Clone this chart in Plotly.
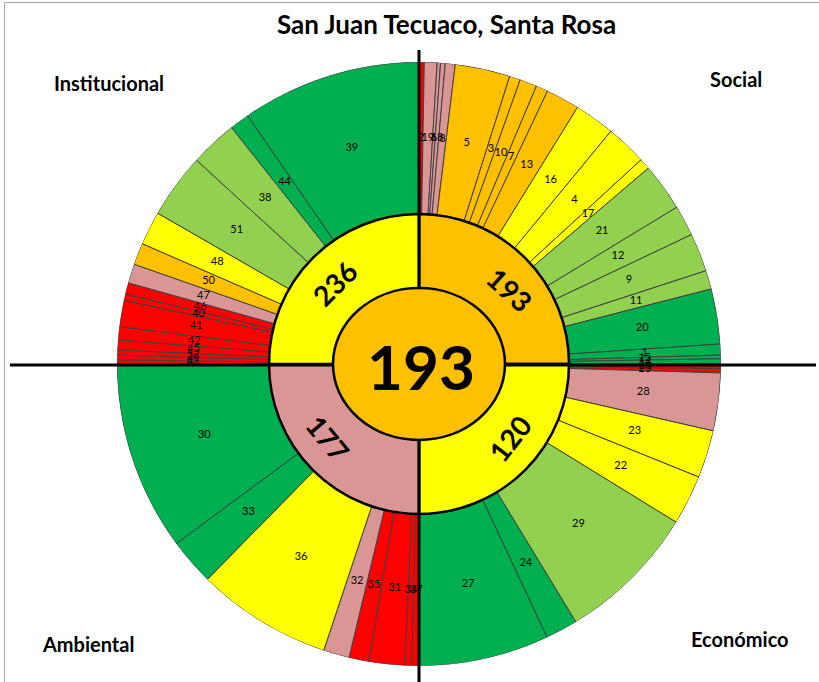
import math
import plotly.graph_objects as go

# ---------------- data ----------------
quadrants = ["Social", "Económico", "Ambiental", "Institucional"]
quadrant_scores = [193, 120, 177, 236]
quadrant_classes = ["O", "Y", "P", "Y"]
total_score = 193
total_class = "O"

social_ids = ["2", "19", "6", "18", "8", "5", "3", "10", "7", "13", "16", "4", "17",
              "21", "12", "9", "11", "20", "1", "15", "14"]
social_widths = [1.0, 2.45, 0.65, 0.9, 1.9, 10.6, 2.1, 3.3, 2.3, 6.5, 7.8, 7.9, 2.1,
                 9.2, 5.9, 7.4, 3.6, 10.6, 2.1, 0.7, 1.0]
social_classes = ["R", "P", "P", "P", "P", "O", "O", "O", "O", "O", "Y", "Y", "Y",
                  "LG", "LG", "LG", "LG", "G", "G", "G", "G"]

economico_ids = ["26", "25", "28", "23", "22", "29", "24", "27"]
economico_widths = [0.9, 0.8, 11.1, 9.2, 9.6, 27.1, 6.2, 25.1]
economico_classes = ["R", "R", "P", "Y", "Y", "LG", "G", "G"]

ambiental_ids = ["37", "34", "31", "35", "32", "36", "33", "30"]
ambiental_widths = [1.4, 1.3, 6.9, 3.8, 5.0, 26.1, 9.0, 36.5]
ambiental_classes = ["R", "R", "R", "R", "P", "Y", "G", "G"]

institucional_ids = ["43", "49", "52", "45", "42", "41", "40", "46", "47", "50", "48",
                     "51", "38", "44", "39"]
institucional_widths = [0.8, 0.9, 1.0, 1.9, 2.5, 5.1, 1.2, 2.2, 3.7, 4.2, 6.5,
                        12.5, 9.1, 3.8, 34.6]
institucional_classes = ["R", "R", "R", "R", "R", "R", "R", "R", "P", "O", "Y",
                         "LG", "LG", "G", "G"]

# ---------------- styling ----------------
COLORS = {"R": "#FF0000", "P": "#DA9694", "O": "#FFC000", "Y": "#FFFF00",
          "LG": "#92D050", "G": "#00B050"}
W, H = 819, 682
CX, CY = 419, 364
R_OUT, R_MID = 302, 150
FONT = "Lato"


def px(x):
    return x / W


def py(y):
    return 1 - y / H


groups = [
    (social_ids, social_widths, social_classes),
    (economico_ids, economico_widths, economico_classes),
    (ambiental_ids, ambiental_widths, ambiental_classes),
    (institucional_ids, institucional_widths, institucional_classes),
]

thetas, widths, cols, texts = [], [], [], []
for k, (ids, ws, cls) in enumerate(groups):
    acc = 90 * k
    for i, w, c in zip(ids, ws, cls):
        thetas.append(acc + w / 2)
        widths.append(w)
        cols.append(COLORS[c])
        texts.append(i)
        acc += w

fig = go.Figure()
fig.add_trace(go.Barpolar(
    theta=thetas, width=widths, r=[R_OUT - R_MID] * len(thetas), base=R_MID,
    marker=dict(color=cols, line=dict(color="#404040", width=1)),
    hoverinfo="skip", showlegend=False))
fig.add_trace(go.Barpolar(
    theta=[45 + 90 * k for k in range(4)], width=[90] * 4, r=[R_MID] * 4, base=0,
    marker=dict(color=[COLORS[c] for c in quadrant_classes],
                line=dict(color="black", width=2.5)),
    hoverinfo="skip", showlegend=False))
fig.add_trace(go.Scatterpolar(
    theta=thetas, r=[(R_OUT + R_MID) / 2] * len(thetas), mode="text", text=texts,
    textfont=dict(size=11, color="black", family=FONT),
    hoverinfo="skip", showlegend=False))

fig.update_layout(
    width=W, height=H, margin=dict(l=0, r=0, t=0, b=0),
    paper_bgcolor="white", plot_bgcolor="white",
    polar=dict(
        domain=dict(x=[px(CX - R_OUT), px(CX + R_OUT)],
                    y=[py(CY + R_OUT), py(CY - R_OUT)]),
        bgcolor="rgba(0,0,0,0)",
        radialaxis=dict(visible=False, range=[0, R_OUT]),
        angularaxis=dict(visible=False, rotation=90, direction="clockwise",
                         showgrid=False, showline=False, showticklabels=False),
    ),
)

shapes = []
# frame
shapes.append(dict(type="rect", xref="paper", yref="paper", x0=px(4.5), x1=px(840),
                   y0=py(700), y1=py(2.5), line=dict(color="#A6A6A6", width=1),
                   fillcolor="rgba(0,0,0,0)"))
# axes
shapes.append(dict(type="line", xref="paper", yref="paper", x0=px(CX), x1=px(CX),
                   y0=py(50), y1=py(690), line=dict(color="black", width=3)))
shapes.append(dict(type="line", xref="paper", yref="paper", x0=px(10), x1=px(816),
                   y0=py(CY + 1), y1=py(CY + 1), line=dict(color="black", width=3)))
# centre ellipse
shapes.append(dict(type="circle", xref="paper", yref="paper",
                   x0=px(CX - 86), x1=px(CX + 86), y0=py(CY + 76), y1=py(CY - 76),
                   fillcolor=COLORS[total_class], line=dict(color="black", width=2.5)))
fig.update_layout(shapes=shapes)


def note(text, x, y, size, angle=0):
    return dict(text=text, x=px(x), y=py(y), xref="paper", yref="paper",
                xanchor="center", yanchor="middle", showarrow=False,
                textangle=angle, font=dict(size=size, family=FONT, color="black"))


ann = [note("<b>San Juan Tecuaco, Santa Rosa</b>", 447, 24, 26)]
quad_label_pos = [(736, 79), (740, 639), (88, 644), (109, 83)]
for name, (x, y) in zip(quadrants, quad_label_pos):
    ann.append(note(f"<b>{name}</b>", x, y, 20))

mid_label_theta = [51, 129, 231, 314]
mid_label_rot = [42, -52, 50, -45]
for s, th, rot in zip(quadrant_scores, mid_label_theta, mid_label_rot):
    t = math.radians(th)
    ann.append(note(f"<b>{s}</b>", CX + 117 * math.sin(t), CY - 117 * math.cos(t), 28, rot))
ann.append(note(f"<b>{total_score}</b>", CX + 2, CY + 2, 62))
fig.update_layout(annotations=ann)

fig.write_html("out.html", config={"displayModeBar": False},
               post_script="document.body.style.margin='0';")
